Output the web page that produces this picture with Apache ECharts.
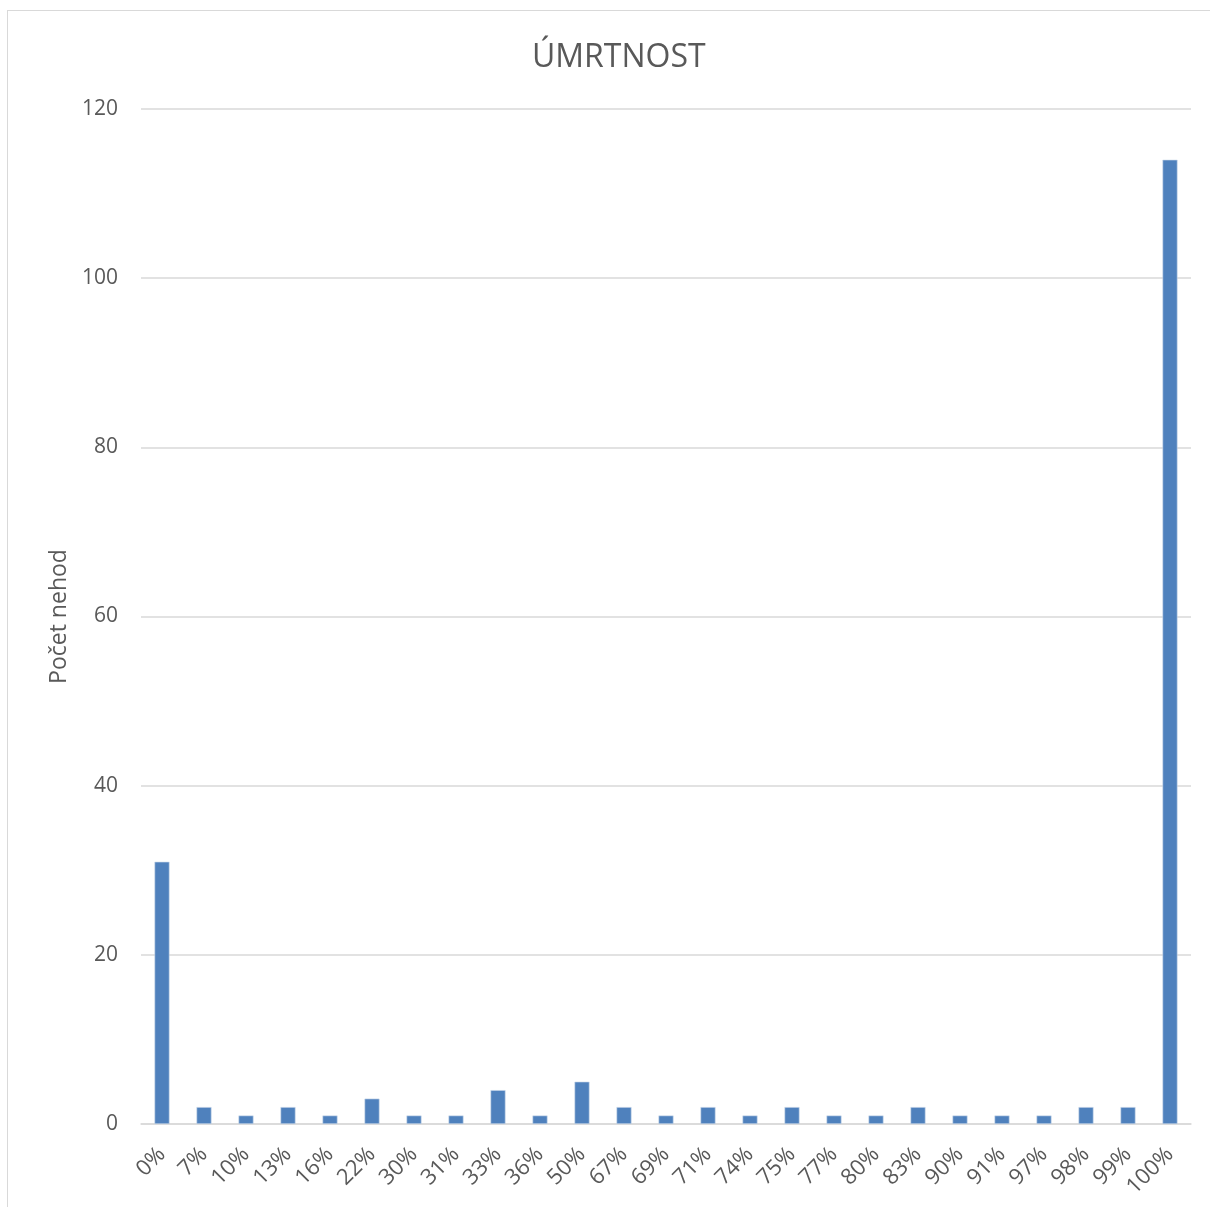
<!DOCTYPE html>
<html>
<head>
<meta charset="utf-8">
<script src="https://cdn.jsdelivr.net/npm/echarts@6/dist/echarts.min.js"></script>
<style>
  html, body { margin: 0; padding: 0; background: #fff; overflow: hidden; }
  #frame {
    position: absolute; left: 7px; top: 10px; width: 1210px; height: 1210px;
    border-left: 1px solid #d9d9d9; border-top: 1px solid #d9d9d9;
  }
  #chart { position: absolute; left: 0; top: 0; width: 1210px; height: 1300px; }
</style>
</head>
<body>
<div id="frame"></div>
<div id="chart"></div>
<script>
// kategorie úmrtnosti a počty nehod
const categories = ['0%', '7%', '10%', '13%', '16%', '22%', '30%', '31%', '33%', '36%', '50%', '67%', '69%',
  '71%', '74%', '75%', '77%', '80%', '83%', '90%', '91%', '97%', '98%', '99%', '100%']
const counts = [31, 2, 1, 2, 1, 3, 1, 1, 4, 1, 5, 2, 1, 2, 1, 2, 1, 1, 2, 1, 1, 1, 2, 2, 114]
const yTicks = [0, 20, 40, 60, 80, 100, 120]

const textColor = '#595959'
const font = 'Open Sans'

const chart = echarts.init(document.getElementById('chart'), null, { renderer: 'canvas' })

let option = {
  backgroundColor: 'transparent',
  animation: false,
  title: {
    text: 'ÚMRTNOST',
    left: 527,
    top: 37,
    textStyle: { color: textColor, fontSize: 32, fontWeight: 'normal', fontFamily: font }
  },
  // plocha grafu končí na y = 1124, kontejner je vyšší kvůli popiskům
  grid: { left: 141, right: 19, top: 109, bottom: 176 },
  xAxis: {
    type: 'category',
    data: categories,
    axisLine: { lineStyle: { color: '#d9d9d9', width: 1.5 } },
    axisTick: { show: false },
    axisLabel: {
      rotate: 45,
      interval: 0,
      margin: 27,
      color: textColor,
      fontSize: 22,
      fontFamily: font
    }
  },
  yAxis: {
    type: 'value',
    min: yTicks[0],
    max: yTicks[yTicks.length - 1],
    interval: 20,
    name: 'Počet nehod',
    nameLocation: 'middle',
    nameGap: 69,
    nameTextStyle: { color: textColor, fontSize: 23, fontFamily: font },
    axisLine: { show: false },
    axisTick: { show: false },
    axisLabel: { color: textColor, fontSize: 21, fontFamily: font, margin: 23 },
    splitLine: { lineStyle: { color: '#d9d9d9', width: 1.5 } }
  },
  series: [
    {
      type: 'bar',
      data: counts,
      barWidth: 15,
      itemStyle: {
        color: '#4f81bd',
        borderColor: '#c9d7ea',
        borderWidth: 0.6
      }
    }
  ]
}

chart.setOption(option)
</script>
</body>
</html>
